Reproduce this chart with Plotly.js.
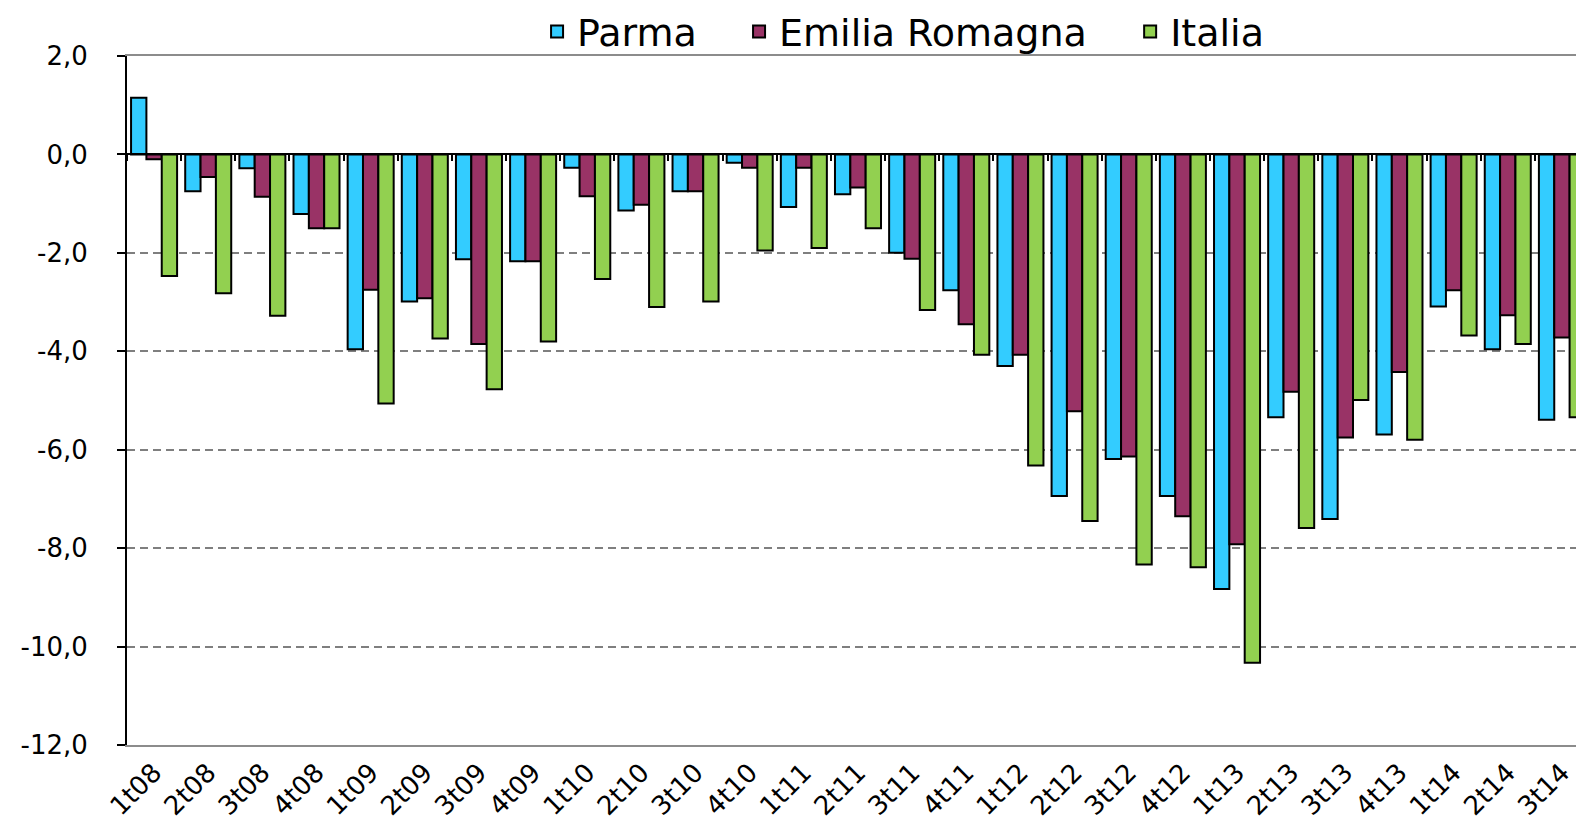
<!DOCTYPE html>
<html>
<head>
<meta charset="utf-8">
<script src="https://cdn.plot.ly/plotly-3.0.1.min.js"></script>
<style>html,body{margin:0;padding:0;background:#fff;}#chart{width:1576px;height:835px;}</style>
</head>
<body>
<div id="chart"></div>
<script>
var categories = ["1t08","2t08","3t08","4t08","1t09","2t09","3t09","4t09","1t10","2t10","3t10","4t10","1t11","2t11","3t11","4t11","1t12","2t12","3t12","4t12","1t13","2t13","3t13","4t13","1t14","2t14","3t14"];
var parma = [1.15,-0.75,-0.28,-1.21,-3.96,-2.99,-2.13,-2.17,-0.27,-1.14,-0.75,-0.17,-1.07,-0.81,-2.0,-2.76,-4.3,-6.94,-6.19,-6.94,-8.83,-5.34,-7.41,-5.69,-3.09,-3.96,-5.39];
var emiliaRomagna = [-0.1,-0.46,-0.86,-1.5,-2.75,-2.92,-3.85,-2.17,-0.85,-1.02,-0.75,-0.27,-0.27,-0.67,-2.12,-3.45,-4.07,-5.22,-6.14,-7.35,-7.92,-4.82,-5.75,-4.42,-2.76,-3.27,-3.72];
var italia = [-2.47,-2.82,-3.28,-1.5,-5.06,-3.74,-4.77,-3.8,-2.53,-3.1,-2.99,-1.95,-1.9,-1.5,-3.16,-4.07,-6.32,-7.45,-8.33,-8.39,-10.33,-7.59,-4.99,-5.8,-3.68,-3.85,-5.34];
var seriesNames = ["Parma","Emilia Romagna","Italia"];
var seriesColors = ["#33CCFF","#993366","#92D050"];
var yTickValues = [2,0,-2,-4,-6,-8,-10,-12];
var yTickLabels = ["2,0","0,0","-2,0","-4,0","-6,0","-8,0","-10,0","-12,0"];

var values = [parma, emiliaRomagna, italia];
var legendIds = ["legend","legend2","legend3"];
var traces = values.map(function(v, i){
  return {
    type: "bar", x: categories, y: v, name: seriesNames[i], legend: legendIds[i],
    marker: {color: seriesColors[i], line: {color: "#000", width: 2}},
    hoverinfo: "x+y+name"
  };
});
// helper (no data) so that the category-boundary ticks on the zero line get drawn
traces.push({type: "scatter", x: [], y: [], xaxis: "x2", yaxis: "y", showlegend: false, hoverinfo: "skip"});

var font = "DejaVu Sans, Verdana, sans-serif";
function legendAt(x){
  return {orientation: "h", x: x, xanchor: "left", y: 1.035, yanchor: "middle",
          font: {family: font, size: 38, color: "#000"}, bgcolor: "rgba(0,0,0,0)", borderwidth: 0};
}
var layout = {
  width: 1576, height: 835,
  margin: {l: 127, r: 0, t: 53, b: 90},
  paper_bgcolor: "#fff", plot_bgcolor: "#fff",
  barmode: "group", bargap: 0.15, bargroupgap: 0,
  font: {family: font, color: "#000", size: 26},
  showlegend: true,
  legend: legendAt(0.2830),
  legend2: legendAt(0.4224),
  legend3: legendAt(0.6923),
  xaxis: {
    type: "category", range: [-0.5, 26.26], autorange: false,
    showgrid: false, zeroline: false, ticks: "",
    showline: true, linecolor: "#8c8c8c", linewidth: 2, mirror: true,
    tickangle: -45, tickfont: {family: font, size: 26, color: "#000"}
  },
  xaxis2: {
    overlaying: "x", anchor: "free", position: 12/14, type: "linear",
    range: [-0.5, 26.26], autorange: false, tick0: 0.5, dtick: 1,
    ticks: "outside", ticklen: 6, tickwidth: 2, tickcolor: "#000",
    showticklabels: false, showgrid: false, zeroline: false,
    showline: true, linecolor: "#000", linewidth: 2
  },
  yaxis: {
    range: [-12, 2], autorange: false,
    tickmode: "array", tickvals: yTickValues, ticktext: yTickLabels,
    showgrid: true, gridcolor: "#7f7f7f", gridwidth: 2, griddash: "8px,5px",
    zeroline: true, zerolinecolor: "#000", zerolinewidth: 2,
    showline: true, linecolor: "#000", linewidth: 2,
    ticks: "outside", ticklen: 8, tickwidth: 2, tickcolor: "#000",
    ticklabelstandoff: 24,
    tickfont: {family: font, size: 26, color: "#000"}
  }
};

Plotly.newPlot("chart", traces, layout, {displayModeBar: false, staticPlot: true});
</script>
</body>
</html>
